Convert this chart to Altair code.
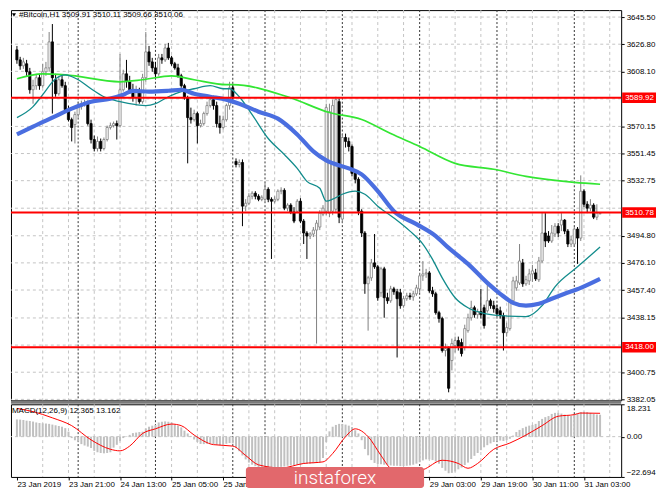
import altair as alt
import pandas as pd

# ---------------- data ----------------
OPEN = [
    3622.9, 3616.0, 3611.9, 3613.3, 3607.8, 3595.4, 3598.2, 3603.7, 3598.2, 3607.8,
    3610.5, 3628.4, 3602.3, 3592.7, 3602.3, 3598.2, 3581.7, 3574.8, 3571.4, 3578.3,
    3583.8, 3585.1, 3586.5, 3572.1, 3561.1, 3554.9, 3559.8, 3554.9, 3561.1, 3569.4,
    3570.7, 3572.1, 3570.7, 3595.4, 3606.4, 3600.9, 3595.4, 3589.9, 3594.1, 3587.2,
    3603.7, 3621.5, 3614.6, 3610.5, 3606.4, 3617.4, 3616.0, 3624.2, 3617.4, 3613.3,
    3610.5, 3605.0, 3598.2, 3589.9, 3576.2, 3574.8, 3579.0, 3570.7, 3572.1, 3579.0,
    3584.5, 3588.6, 3584.5, 3572.1, 3569.4, 3574.8, 3584.5, 3596.8, 3546.0, 3543.9,
    3545.3, 3515.2, 3517.2, 3522.0, 3524.1, 3522.0, 3519.9, 3519.9, 3526.8, 3519.9,
    3518.6, 3519.9, 3525.5, 3526.1, 3513.8, 3515.9, 3511.1, 3511.7, 3518.6, 3504.9,
    3496.7, 3494.6, 3496.0, 3498.7, 3500.8, 3509.7, 3511.7, 3510.4, 3511.7, 3513.1,
    3587.2, 3506.3, 3562.5, 3559.8, 3556.3, 3537.8, 3533.7, 3511.7, 3496.7, 3461.7,
    3465.8, 3476.1, 3473.4, 3455.5, 3472.0, 3452.1, 3450.0, 3458.2, 3456.2, 3455.5,
    3446.6, 3451.4, 3453.4, 3452.7, 3454.8, 3458.2, 3467.2, 3468.5, 3469.2, 3456.9,
    3454.8, 3441.8, 3437.7, 3415.7, 3417.1, 3408.8, 3419.1, 3422.6, 3421.2, 3417.8,
    3429.4, 3438.3, 3445.2, 3440.4, 3442.5, 3445.2, 3443.1, 3450.0, 3446.6, 3444.5,
    3443.1, 3439.7, 3428.0, 3430.8, 3450.0, 3458.9, 3462.3, 3476.1, 3461.7, 3463.7,
    3468.5, 3469.2, 3464.5, 3477.4, 3496.7, 3494.6, 3491.2, 3496.0, 3501.4, 3502.2,
    3505.6, 3498.0, 3489.1, 3489.1, 3499.4, 3493.2, 3525.5, 3516.5, 3513.8, 3515.9,
    3507.6, 3509.91,
]
HIGH = [
    3625.6, 3618.1, 3617.4, 3616.0, 3610.5, 3602.3, 3606.4, 3606.4, 3613.3, 3614.6,
    3635.2, 3640.7, 3606.4, 3605.0, 3605.0, 3600.9, 3584.5, 3576.2, 3580.3, 3587.2,
    3587.9, 3588.6, 3587.9, 3574.8, 3563.9, 3563.2, 3561.8, 3562.5, 3570.7, 3572.8,
    3573.5, 3574.2, 3620.1, 3609.2, 3616.0, 3605.0, 3599.5, 3598.2, 3596.8, 3606.4,
    3635.2, 3625.6, 3617.4, 3614.6, 3620.1, 3620.1, 3627.0, 3627.7, 3618.8, 3614.6,
    3613.3, 3606.4, 3599.5, 3591.3, 3583.1, 3581.7, 3580.3, 3574.8, 3580.3, 3587.2,
    3589.9, 3591.3, 3587.2, 3577.6, 3577.6, 3585.8, 3600.9, 3599.5, 3548.1, 3547.4,
    3547.4, 3520.0, 3524.1, 3525.5, 3525.5, 3523.4, 3522.7, 3531.0, 3528.2, 3521.3,
    3522.0, 3526.8, 3528.2, 3527.5, 3517.2, 3517.2, 3514.5, 3520.0, 3520.7, 3506.3,
    3498.0, 3497.3, 3500.8, 3505.6, 3512.4, 3515.9, 3585.8, 3585.8, 3588.6, 3590.6,
    3589.3, 3565.2, 3565.2, 3562.5, 3557.7, 3540.5, 3535.1, 3513.1, 3498.0, 3467.2,
    3478.8, 3496.0, 3474.7, 3473.4, 3473.4, 3455.5, 3460.3, 3459.6, 3458.2, 3458.2,
    3453.4, 3455.5, 3455.5, 3456.9, 3461.0, 3469.2, 3477.4, 3472.0, 3470.6, 3459.6,
    3456.2, 3443.1, 3439.0, 3420.5, 3418.4, 3423.9, 3425.3, 3425.3, 3423.9, 3433.5,
    3441.1, 3450.0, 3446.6, 3444.5, 3458.2, 3447.3, 3462.3, 3451.4, 3450.0, 3447.3,
    3445.9, 3441.8, 3434.9, 3451.4, 3466.5, 3467.2, 3489.1, 3478.8, 3467.2, 3472.0,
    3474.7, 3472.0, 3480.2, 3511.0, 3510.4, 3498.0, 3502.2, 3503.5, 3503.5, 3510.4,
    3506.3, 3499.4, 3494.6, 3500.8, 3500.8, 3536.4, 3526.8, 3518.6, 3520.0, 3517.2,
    3516.5, 3510.11,
]
LOW = [
    3613.3, 3609.2, 3609.8, 3605.0, 3592.7, 3585.8, 3595.4, 3595.4, 3596.8, 3605.0,
    3607.8, 3579.0, 3590.6, 3591.3, 3596.8, 3580.3, 3573.5, 3559.8, 3558.4, 3576.2,
    3581.7, 3583.8, 3570.7, 3558.4, 3552.9, 3552.9, 3552.9, 3553.6, 3559.8, 3568.0,
    3569.4, 3561.1, 3569.4, 3594.1, 3596.8, 3592.7, 3587.2, 3584.5, 3585.8, 3585.8,
    3600.9, 3611.9, 3607.8, 3603.7, 3605.0, 3613.3, 3614.6, 3616.0, 3611.9, 3609.2,
    3603.7, 3596.8, 3588.6, 3544.7, 3572.1, 3573.5, 3558.4, 3569.4, 3570.7, 3577.6,
    3583.1, 3581.7, 3569.4, 3565.2, 3568.0, 3573.5, 3581.7, 3588.6, 3541.9, 3541.9,
    3501.4, 3511.7, 3515.9, 3519.9, 3519.9, 3518.6, 3518.6, 3518.6, 3517.9, 3478.8,
    3517.2, 3518.6, 3523.4, 3512.4, 3511.7, 3509.7, 3503.5, 3510.4, 3503.5, 3489.1,
    3478.8, 3492.5, 3493.9, 3420.5, 3498.7, 3508.3, 3509.0, 3507.6, 3509.0, 3510.4,
    3503.5, 3503.5, 3555.6, 3552.9, 3535.7, 3530.9, 3509.0, 3493.9, 3454.8, 3429.4,
    3463.7, 3472.0, 3450.0, 3452.7, 3438.3, 3447.9, 3448.6, 3454.1, 3410.9, 3444.5,
    3445.2, 3450.0, 3450.7, 3450.0, 3453.4, 3455.5, 3463.7, 3465.8, 3455.5, 3452.7,
    3440.4, 3434.9, 3414.3, 3411.6, 3386.9, 3402.0, 3414.3, 3415.7, 3411.6, 3415.7,
    3428.0, 3436.3, 3438.3, 3437.7, 3437.7, 3430.8, 3441.8, 3444.5, 3441.8, 3439.0,
    3437.7, 3415.7, 3425.3, 3429.4, 3448.6, 3456.9, 3460.9, 3459.6, 3460.3, 3460.9,
    3463.0, 3463.7, 3463.0, 3476.1, 3487.0, 3489.9, 3489.9, 3493.9, 3493.9, 3498.0,
    3495.9, 3487.0, 3487.0, 3487.0, 3475.4, 3491.2, 3514.5, 3510.4, 3511.7, 3506.3,
    3505.6, 3509.66,
]
CLOSE = [
    3616.0, 3611.9, 3614.6, 3607.8, 3595.4, 3598.2, 3603.7, 3598.2, 3607.8, 3610.5,
    3628.4, 3603.7, 3592.7, 3602.3, 3598.2, 3581.7, 3574.8, 3569.4, 3578.3, 3583.8,
    3585.1, 3586.5, 3572.1, 3561.1, 3554.9, 3559.8, 3554.9, 3561.1, 3569.4, 3570.7,
    3572.1, 3570.7, 3595.4, 3606.4, 3600.9, 3595.4, 3589.9, 3594.1, 3587.2, 3603.7,
    3621.5, 3614.6, 3610.5, 3606.4, 3617.4, 3616.0, 3624.2, 3617.4, 3613.3, 3610.5,
    3605.0, 3598.2, 3589.9, 3576.2, 3574.8, 3579.0, 3570.7, 3572.1, 3579.0, 3584.5,
    3588.6, 3584.5, 3572.1, 3569.4, 3574.8, 3584.5, 3596.8, 3590.6, 3543.9, 3545.3,
    3515.2, 3517.2, 3522.0, 3524.1, 3522.0, 3519.9, 3521.3, 3526.8, 3519.9, 3518.6,
    3519.9, 3525.5, 3526.1, 3513.8, 3515.9, 3511.1, 3504.9, 3518.6, 3504.9, 3496.7,
    3494.6, 3496.0, 3498.7, 3503.5, 3510.4, 3513.8, 3583.1, 3580.3, 3584.5, 3588.6,
    3507.6, 3562.5, 3559.8, 3556.3, 3537.8, 3533.7, 3511.7, 3496.7, 3461.7, 3465.8,
    3476.1, 3473.4, 3452.1, 3472.0, 3452.1, 3450.0, 3458.2, 3456.2, 3451.4, 3446.6,
    3451.4, 3453.4, 3452.7, 3454.8, 3458.9, 3467.2, 3468.5, 3469.2, 3456.9, 3454.8,
    3441.8, 3437.7, 3415.7, 3417.1, 3389.7, 3420.5, 3422.6, 3418.4, 3413.6, 3430.8,
    3438.3, 3445.2, 3440.4, 3442.5, 3440.4, 3432.9, 3450.0, 3446.6, 3444.5, 3441.1,
    3439.7, 3428.0, 3431.5, 3450.0, 3463.7, 3463.7, 3477.4, 3461.7, 3464.5, 3468.5,
    3470.6, 3465.1, 3477.4, 3496.7, 3491.2, 3491.2, 3496.7, 3501.4, 3496.7, 3505.6,
    3498.0, 3489.1, 3491.9, 3499.4, 3493.2, 3525.5, 3516.5, 3513.8, 3515.9, 3507.6,
    3510.4, 3510.06,
]
MACD_HIST = [
    9.7, 9.6, 9.4, 9.0, 8.8, 8.5, 8.0, 7.7, 7.5, 7.4,
    7.2, 6.8, 6.4, 6.0, 5.6, 4.8, 2.8, -0.8, -2.0, -2.8,
    -4.2, -5.0, -5.6, -6.4, -8.0, -8.8, -9.2, -9.4, -9.2, -8.8,
    -6.2, -4.6, -2.5, -0.8, 0.3, 1.0, 2.0, 2.3, 2.6, 2.8,
    4.6, 5.6, 6.2, 6.6, 8.0, 8.4, 8.6, 8.4, 8.0, 6.8,
    6.2, 5.2, 3.4, 1.8, 0.4, -1.6, -3.0, -4.1, -4.2, -4.0,
    -3.8, -4.2, -4.6, -4.8, -4.6, -4.0, -3.6, -3.8, -6.0, -8.2,
    -10.6, -12.8, -14.6, -15.8, -16.6, -17.2, -17.6, -17.8, -17.8, -17.8,
    -17.6, -17.2, -17.0, -16.8, -16.4, -16.2, -16.0, -15.8, -15.6, -15.4,
    -15.2, -15.2, -15.0, -14.8, -14.4, -12.0, -3.0, 3.0, 5.6, 6.6,
    7.2, 7.1, 6.8, 6.2, 5.4, 3.6, 1.8, -2.0, -7.0, -10.5,
    -13.2, -14.8, -15.4, -15.6, -15.8, -16.0, -16.2, -16.4, -16.4, -16.6,
    -16.6, -16.4, -16.2, -15.8, -15.2, -14.4, -13.4, -12.8, -12.8, -13.2,
    -14.0, -15.2, -17.6, -19.2, -20.6, -20.4, -19.6, -18.4, -17.4, -16.0,
    -14.6, -12.6, -10.8, -9.2, -7.6, -6.0, -4.8, -3.8, -3.0, -2.6,
    -2.2, -2.4, -2.0, -1.2, 0.6, 2.6, 3.8, 4.8, 5.6, 6.2,
    6.6, 7.2, 8.8, 10.0, 11.0, 11.6, 12.8, 13.4, 13.4, 13.0,
    12.4, 11.8, 11.6, 12.4, 13.2, 13.8, 14.0, 13.8, 13.4, 12.8,
    12.5, 12.365,
]
SIG_BARS = [0, 5, 11, 17, 23, 29, 32, 35, 39, 43, 48, 51, 55, 61, 67, 71, 75, 82, 89, 95,
            98, 102, 105, 109, 113, 116, 120, 126, 132, 137, 140, 143, 148, 153, 158, 163, 168, 173, 175, 181]
SIG_VALUES = [15.9, 14.1, 10.6, 6.2, -1.8, -7.1, -8.0, -5.3, 1.8, 4.4, 7.1, 6.2, 0.9, -4.5, -5.3, -10.6, -15.9, -17.6, -15.1, -14.2,
              -9.5, 0.0, 4.4, 0.0, -10.6, -17.8, -20.0, -18.6, -13.3, -15.1, -17.8, -15.1, -7.1, -3.6, 0.9, 6.2, 11.5, 12.4, 13.3, 13.162]

GREEN_BARS = [0, 8, 15, 32, 39, 48, 55, 65, 67, 84, 97, 107, 116, 125, 136, 148, 158, 173, 181]
GREEN_PRICES = [3603.0, 3606.4, 3605.7, 3600.9, 3602.3, 3605.0, 3602.3, 3598.9, 3598.9, 3590.6,
                3579.7, 3574.9, 3565.2, 3556.3, 3544.7, 3540.6, 3535.7, 3531.6, 3530.3]
TEAL_BARS = [0, 5, 8, 12, 15, 19, 23, 27, 32, 37, 40, 43, 47, 51, 55, 60, 64, 66, 69, 73,
             78, 83, 87, 90, 94, 96, 98, 101, 105, 108, 112, 117, 122, 126, 129, 132, 136, 140, 144, 150,
             158, 163, 167, 174, 181]
TEAL_PRICES = [3576.2, 3583.8, 3592.0, 3603.0, 3605.7, 3602.3, 3596.1, 3590.6, 3587.2, 3585.1,
               3584.5, 3585.8, 3590.6, 3594.1, 3596.1, 3598.2, 3596.1, 3596.1, 3590.6, 3578.3,
               3561.8, 3550.8, 3541.2, 3532.3, 3527.5, 3518.6, 3520.0, 3523.4, 3525.5, 3523.4,
               3515.2, 3507.1, 3498.0, 3489.1, 3478.5, 3465.8, 3452.1, 3445.2, 3441.8, 3439.7,
               3439.0, 3446.6, 3459.6, 3473.4, 3487.0]
BLUE_BARS = [0, 5, 11, 17, 23, 29, 33, 36, 41, 47, 51, 55, 60, 65, 69, 75, 81, 87, 92, 96,
             103, 107, 112, 117, 124, 130, 134, 140, 146, 150, 154, 158, 162, 166, 170, 175, 181]
BLUE_PRICES = [3564.6, 3570.0, 3576.2, 3582.4, 3587.2, 3589.3, 3592.0, 3594.7, 3594.1, 3594.7,
               3595.4, 3592.7, 3590.6, 3588.6, 3585.8, 3580.3, 3575.5, 3564.6, 3552.9, 3546.7,
               3541.2, 3537.1, 3525.5, 3511.7, 3502.8, 3494.6, 3486.4, 3475.4, 3462.3, 3454.8,
               3448.6, 3446.6, 3447.9, 3451.4, 3454.8, 3458.9, 3465.1]

LEVELS = [3589.92, 3510.78, 3418.00]
GRID_PRICES = [3645.50, 3626.80, 3608.10, 3589.13, 3570.15, 3551.45, 3532.75, 3513.78,
               3494.80, 3476.10, 3457.40, 3438.15, 3419.45, 3400.75, 3382.05]
PRICE_LABELS = [3645.50, 3626.80, 3608.10, 3570.15, 3551.45, 3532.75,
                3494.80, 3476.10, 3457.40, 3438.15, 3400.75, 3382.05]
MACD_TICKS = [18.231, 0.0, -22.694]
TIME_BARS = [0, 16, 32, 48, 64, 128, 144, 160, 176]
TIME_LABELS = ["23 Jan 2019", "23 Jan 21:00", "24 Jan 13:00", "25 Jan 05:00", "25 Jan 21:00",
               "29 Jan 03:00", "29 Jan 19:00", "30 Jan 11:00", "31 Jan 03:00"]
GRID_BARS = [8, 16, 24, 32, 40, 48, 56, 64, 72, 80, 88, 96, 104, 112, 120, 128, 136, 144,
             152, 160, 168, 176, 184]
DAY_BARS = [19, 43, 67, 77, 101, 125, 149, 173]
HEADER = "#Bitcoin,H1  3509.91 3510.11 3509.66 3510.06"
MACD_TITLE = "MACD(12,26,9) 12.365 13.162"
LOGO = "instaforex"

# ---------------- chart ----------------
W, H_MAIN, H_MACD = 613, 392, 73
FONT = "Liberation Sans"
XS = alt.Scale(domain=[-0.3, 186.0], nice=False, zero=False)
YS = alt.Scale(domain=[3381.4, 3650.3], nice=False, zero=False)
MS = alt.Scale(domain=[-22.694, 18.231], nice=False, zero=False)

candles = pd.DataFrame({"bar": list(range(len(CLOSE))), "o": OPEN, "h": HIGH, "l": LOW, "c": CLOSE})
macd_df = pd.DataFrame({"bar": list(range(len(MACD_HIST))), "v": MACD_HIST})
one = pd.DataFrame({"t": [0]})

price_axis = alt.Axis(orient="right", values=PRICE_LABELS, format=".2f", grid=False, domain=False,
                      tickSize=3, tickColor="#000000", labelColor="#000000", labelFont=FONT,
                      labelFontSize=8, labelPadding=2, title=None, zindex=0)
macd_axis = alt.Axis(orient="right", values=MACD_TICKS,
                     labelExpr="datum.value == 0 ? '0.00' : format(datum.value, '.3f')",
                     labelFlush=True, grid=False, domain=False, tickSize=3, tickColor="#000000",
                     labelColor="#000000", labelFont=FONT, labelFontSize=8, labelPadding=2,
                     title=None, zindex=0)
label_list = "[" + ",".join("'" + s + "'" for s in TIME_LABELS) + "]"
bar_list = "[" + ",".join(str(b) for b in TIME_BARS) + "]"
time_axis = alt.Axis(orient="bottom", values=TIME_BARS,
                     labelExpr=label_list + "[indexof(" + bar_list + ", datum.value)]",
                     grid=False, domain=False, tickSize=3, tickColor="#000000", labelAlign="left",
                     labelFlush=False, labelOverlap=False, labelPadding=1, labelFont=FONT,
                     labelFontSize=8, labelColor="#000000", title=None, zindex=0)


def xm(field):
    return alt.X(f"{field}:Q", scale=XS, axis=None)


def xb(field):
    return alt.X(f"{field}:Q", scale=XS, axis=time_axis)


def yp(field):
    return alt.Y(f"{field}:Q", scale=YS, axis=price_axis)


def ym(field):
    return alt.Y(f"{field}:Q", scale=MS, axis=macd_axis)


grid_style = dict(color="#c4c4c4", strokeDash=[3, 3], strokeWidth=1)


def vgrid(xf):
    return alt.Chart(pd.DataFrame({"b": GRID_BARS})).mark_rule(**grid_style).encode(x=xf("b"))


def seps(xf):
    return alt.Chart(pd.DataFrame({"b": DAY_BARS})).mark_rule(
        color="#333333", strokeDash=[2, 2], strokeWidth=1).encode(x=xf("b"))


hgrid = alt.Chart(pd.DataFrame({"p": GRID_PRICES})).mark_rule(**grid_style).encode(y=yp("p"))

up = alt.datum.c >= alt.datum.o
wick = alt.Chart(candles).mark_rule(strokeWidth=1).encode(
    x=xm("bar"), y=yp("l"), y2="h:Q",
    color=alt.condition(up, alt.value("#808080"), alt.value("#000000")))
body = alt.Chart(candles).mark_bar(size=2.2, strokeWidth=0.8).encode(
    x=xm("bar"), y=yp("o"), y2="c:Q",
    fill=alt.condition(up, alt.value("#ffffff"), alt.value("#000000")),
    stroke=alt.condition(up, alt.value("#808080"), alt.value("#000000")))


def ma(bars, prices, color, width):
    return alt.Chart(pd.DataFrame({"b": bars, "p": prices})).mark_line(
        color=color, strokeWidth=width, interpolate="monotone").encode(x=xm("b"), y=yp("p"))


green = ma(GREEN_BARS, GREEN_PRICES, "#33e633", 1.7)
teal = ma(TEAL_BARS, TEAL_PRICES, "#128c8c", 1.3)
blue = ma(BLUE_BARS, BLUE_PRICES, "#4a6ee0", 4.2)

lev_df = pd.DataFrame({"p": LEVELS})
red_lines = alt.Chart(lev_df).mark_rule(color="#ff0000", strokeWidth=2).encode(y=yp("p"))
red_box = alt.Chart(lev_df).transform_calculate(top="datum.p + 3.6", bot="datum.p - 3.6").mark_rect(
    color="#ff0000").encode(x=alt.value(W + 1), x2=alt.value(W + 35), y=yp("top"), y2="bot:Q")
red_text = alt.Chart(lev_df).mark_text(align="left", baseline="middle", color="#ffffff", font=FONT,
                                       fontSize=8).encode(
    x=alt.value(W + 4), y=yp("p"), text=alt.Text("p:Q", format=".2f"))

tri = alt.Chart(one).mark_point(shape="triangle-down", filled=True, size=16, color="#000000",
                                opacity=1).encode(x=alt.value(3), y=alt.value(5))
header = alt.Chart(one).mark_text(align="left", baseline="middle", font=FONT, fontSize=8,
                                  color="#000000").encode(x=alt.value(8), y=alt.value(5),
                                                          text=alt.value(HEADER))

main = alt.layer(hgrid, vgrid(xm), seps(xm), wick, body, green, teal, blue, red_lines, red_box,
                 red_text, tri, header).properties(width=W, height=H_MAIN)

zero_grid = alt.Chart(pd.DataFrame({"v": [0.0]})).mark_rule(**grid_style).encode(y=ym("v"))
hist = alt.Chart(macd_df).transform_calculate(z="0").mark_bar(size=2, color="#c0c0c0").encode(
    x=xb("bar"), y=ym("v"), y2="z:Q")
signal = alt.Chart(pd.DataFrame({"b": SIG_BARS, "v": SIG_VALUES})).mark_line(
    color="#ff0000", strokeWidth=1, interpolate="monotone").encode(x=xb("b"), y=ym("v"))
band = alt.Chart(one).mark_rule(color="#7a7a7a", strokeWidth=3).encode(
    x=alt.value(0), x2=alt.value(W), y=alt.value(-2))
macd_title = alt.Chart(one).mark_text(align="left", baseline="middle", font=FONT, fontSize=8,
                                      color="#000000").encode(x=alt.value(1), y=alt.value(7),
                                                              text=alt.value(MACD_TITLE))
logo_box = alt.Chart(one).mark_rect(color="#e2686c", cornerRadius=3).encode(
    x=alt.value(236), x2=alt.value(415), y=alt.value(63), y2=alt.value(84))
logo_text = alt.Chart(one).mark_text(align="center", baseline="alphabetic", font="Roboto",
                                     fontSize=19, fontWeight=300, color="#ffffff").encode(
    x=alt.value(325.5), y=alt.value(80), text=alt.value(LOGO))

macd = alt.layer(zero_grid, vgrid(xb), seps(xb), hist, signal, band, macd_title, logo_box,
                 logo_text).properties(width=W, height=H_MACD)

chart = alt.vconcat(main, macd, spacing=4, bounds="flush").properties(
    padding=0, background="#ffffff").configure_view(stroke="#000000", strokeWidth=1)

chart.save("out.html", embed_options={"renderer": "svg", "actions": False})
